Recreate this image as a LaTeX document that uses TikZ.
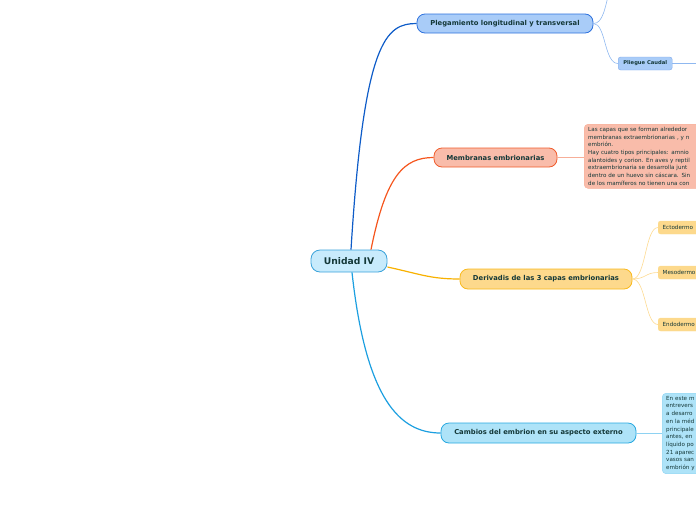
\documentclass[tikz,border=0pt]{standalone}
\usepackage{fontspec}
\setmainfont{DejaVu Sans}
\usepackage{tikz}
\usetikzlibrary{
  arrows.meta,
  shapes,
  positioning,
  calc
}
\definecolor{mmText}{HTML}{143838}
\definecolor{mmRootF}{HTML}{C8EBFC}
\definecolor{mmRootD}{HTML}{3AA2DA}
\definecolor{mmPlegF}{HTML}{A9CCF8}
\definecolor{mmPlegD}{HTML}{2E72DE}
\definecolor{mmPlegL}{HTML}{0E5CC8}
\definecolor{mmPlegS}{HTML}{8FB8F0}
\definecolor{mmMembF}{HTML}{F9BCAA}
\definecolor{mmMembD}{HTML}{F05C2C}
\definecolor{mmMembL}{HTML}{F5561E}
\definecolor{mmMembS}{HTML}{F7AE98}
\definecolor{mmDerF}{HTML}{FDD98C}
\definecolor{mmDerD}{HTML}{F9B91C}
\definecolor{mmDerL}{HTML}{F8B100}
\definecolor{mmDerS}{HTML}{FDDA90}
\definecolor{mmCamF}{HTML}{AEE3F8}
\definecolor{mmCamD}{HTML}{27A8E0}
\definecolor{mmCamL}{HTML}{1C9FE0}
\definecolor{mmCamS}{HTML}{8ED2F2}
\tikzset{
  mmnode/.style={
    draw, rounded corners=8pt, thick, text=mmText,
    font=\fontsize{6.8}{8}\selectfont\bfseries, inner sep=0pt, align=center
  },
  rootnode/.style={mmnode, fill=mmRootF, draw=mmRootD, rounded corners=9pt,
    minimum width=76pt, minimum height=22pt, font=\fontsize{9.2}{10}\selectfont\bfseries},
  plegnode/.style={mmnode, fill=mmPlegF, draw=mmPlegD, minimum width=176pt, minimum height=19pt},
  membnode/.style={mmnode, fill=mmMembF, draw=mmMembD, minimum width=123pt, minimum height=19pt},
  dernode/.style={mmnode, fill=mmDerF, draw=mmDerD, minimum width=172pt, minimum height=20pt},
  camnode/.style={mmnode, fill=mmCamF, draw=mmCamD, minimum width=195pt, minimum height=20pt},
  leaf/.style={draw, rounded corners=2.5pt, thin, text=mmText, inner sep=0pt,
    font=\fontsize{5.6}{6}\selectfont, minimum height=13pt, anchor=west},
  layer/.style={leaf, fill=mmDerF, draw=mmDerD!50, align=left, text width=52pt, inner xsep=4.5pt},
  notebox/.style={draw, rounded corners=4pt, thin, text=mmText, anchor=north west,
    font=\fontsize{5.6}{7.7}\selectfont, align=left, inner xsep=4pt, inner ysep=3pt},
  branch/.style={line width=1.2pt},
  twig/.style={line width=0.6pt}
}

\begin{document}
\begin{tikzpicture}[x=1pt, y=-1pt]
  \useasboundingbox (0,0) rectangle (696,520);
  \clip (0,0) rectangle (696,520);
  % main topics
  \node[rootnode] (unidad) at (349,261) {Unidad IV};
  \node[plegnode] (pleg) at (505,23.5) {Plegamiento longitudinal y transversal};
  \node[membnode] (memb) at (495.5,157.5) {Membranas embrionarias};
  \node[dernode] (deriv) at (546,279) {Derivadis de las 3 capas embrionarias};
  \node[camnode] (camb) at (538.5,433) {Cambios del embrion en su aspecto externo};
  % subtopics
  \node[leaf, fill=mmPlegF, draw=mmPlegD!60, minimum width=54pt, font=\fontsize{5.2}{6}\selectfont\bfseries] (caudal) at (618,63.5) {Pliegue Caudal};
  \node[layer] (ecto) at (658,227.5) {Ectodermo};
  \node[layer] (meso) at (658,272.5) {Mesodermo};
  \node[layer] (endo) at (658,324.5) {Endodermo};
  \node[notebox, fill=mmMembF, draw=mmMembS, text width=200pt] (membtxt) at (584,124) {Las capas que se forman alrededor\\membranas extraembrionarias , y n\\embrión.\\Hay cuatro tipos principales: amnio\\alantoides y corion. En aves y reptil\\extraembrionaria se desarrolla junt\\dentro de un huevo sin cáscara. Sin\\de los mamíferos no tienen una con};
  \node[notebox, fill=mmCamF, draw=mmCamS, text width=200pt] (camtxt) at (662,393) {En este m\\entrevers\\a desarro\\en la méd\\principale\\antes, en\\líquido po\\21 aparec\\vasos san\\embrión y};
  \coordinate (up) at (610,-12);
  \coordinate (caudalend) at (700,63.5);
  % connectors
  \draw[branch, mmPlegL] ([xshift=2pt]unidad.north) .. controls (364,40) and (386,23.5) .. (pleg.west);
  \draw[branch, mmMembL] ([xshift=22pt]unidad.north) .. controls (386,175) and (404,157.5) .. (memb.west);
  \draw[branch, mmDerL] ([yshift=-6pt]unidad.east) .. controls (420,274) and (430,279) .. (deriv.west);
  \draw[branch, mmCamL] ([xshift=3pt]unidad.south) .. controls (366,400) and (400,433) .. (camb.west);
  \draw[twig, mmPlegS] (pleg.east) .. controls (603,23.5) and (605,8) .. (up);
  \draw[twig, mmPlegS] (pleg.east) .. controls (606,23.5) and (604,63.5) .. (caudal.west);
  \draw[twig, mmPlegS] (caudal.east) -- (caudalend);
  \draw[twig, mmMembS] (memb.east) -- (membtxt.west |- memb.east);
  \draw[twig, mmDerS] (deriv.east) .. controls (646,279) and (645,227.5) .. (ecto.west);
  \draw[twig, mmDerS] (deriv.east) .. controls (646,279) and (645,272.5) .. (meso.west);
  \draw[twig, mmDerS] (deriv.east) .. controls (646,279) and (645,324.5) .. (endo.west);
  \draw[twig, mmCamS] (camb.east) -- (camtxt.west |- camb.east);
\end{tikzpicture}
\end{document}
